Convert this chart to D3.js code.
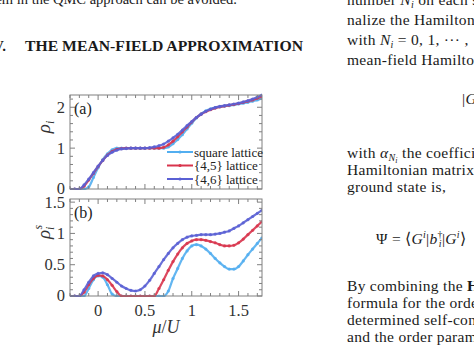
<!DOCTYPE html>
<html><head><meta charset="utf-8">
<script src="https://cdn.jsdelivr.net/npm/d3@7"></script>
<style>body{margin:0;background:#fff}svg{display:block}</style>
</head><body>
<script>
// ---- data ----
const mu = [-0.30,-0.25,-0.20,-0.15,-0.10,-0.05,0.00,0.05,0.10,0.15,0.20,0.25,0.30,0.35,0.40,0.45,0.50,0.55,0.60,0.65,0.70,0.75,0.80,0.85,0.90,0.95,1.00,1.05,1.10,1.15,1.20,1.25,1.30,1.35,1.40,1.45,1.50,1.55,1.60,1.65,1.70,1.75];
const seriesNames = ["square lattice","{4,5} lattice","{4,6} lattice"];
const rhoSquare = [0,0,0,0,0.05,0.28,0.52,0.72,0.86,0.96,1.0,1.0,1.0,1.0,1.0,1.0,1.0,1.0,1.0,1.0,1.0,1.03,1.11,1.21,1.33,1.47,1.61,1.74,1.84,1.91,1.96,1.99,2.01,2.03,2.04,2.06,2.08,2.10,2.12,2.15,2.18,2.22];
const rho45 = [0,0,0,0.07,0.22,0.38,0.55,0.70,0.83,0.92,0.97,0.99,1.0,1.0,1.0,1.0,1.0,1.0,1.0,1.0,1.02,1.08,1.17,1.28,1.40,1.52,1.64,1.75,1.83,1.89,1.94,1.98,2.01,2.03,2.05,2.07,2.09,2.12,2.15,2.18,2.22,2.27];
const rho46 = [0,0,0,0.10,0.24,0.40,0.56,0.70,0.82,0.90,0.95,0.98,0.99,1.0,1.0,1.0,1.0,1.01,1.03,1.06,1.10,1.17,1.25,1.34,1.44,1.55,1.65,1.75,1.83,1.90,1.95,1.99,2.02,2.04,2.06,2.08,2.10,2.13,2.16,2.20,2.25,2.30];
const sSquare = [0,0,0,0,0.12,0.26,0.32,0.30,0.18,0.03,0,0,0,0,0,0,0,0,0,0,0,0.08,0.28,0.44,0.60,0.72,0.80,0.82,0.80,0.75,0.68,0.60,0.53,0.47,0.43,0.43,0.47,0.56,0.66,0.75,0.84,0.93];
const s45 = [0,0,0,0.06,0.18,0.28,0.33,0.32,0.26,0.17,0.07,0,0,0,0,0,0,0,0,0.12,0.26,0.41,0.55,0.67,0.77,0.84,0.88,0.90,0.90,0.89,0.87,0.85,0.82,0.80,0.80,0.81,0.85,0.91,0.98,1.05,1.12,1.19];
const s46 = [0,0,0,0.10,0.22,0.32,0.36,0.37,0.34,0.28,0.22,0.16,0.12,0.09,0.08,0.10,0.16,0.25,0.36,0.47,0.58,0.68,0.77,0.84,0.90,0.94,0.96,0.97,0.98,0.98,0.98,0.99,1.00,1.02,1.04,1.08,1.12,1.17,1.22,1.27,1.32,1.37];
const xTicks = [0,0.5,1,1.5];
const xTickLabels = ["0","0.5","1","1.5"];
const yTicksA = [0,1,2];
const yTickLabelsA = ["0","1","2"];
const yTicksB = [0,0.5,1,1.5];
const yTickLabelsB = ["0","0.5","1","1.5"];

// ---- drawing ----
const W = 474, H = 346;
const colors = ["#52aef0","#d8344c","#5a60d4"];
const serif = "'Liberation Serif','Times New Roman',serif";
const svg = d3.select("body").append("svg").attr("width",W).attr("height",H)
  .style("font-family",serif);
svg.append("rect").attr("width",W).attr("height",H).attr("fill","#fff");

const x = d3.scaleLinear().domain([-0.3,1.75]).range([70,262]);
const ya = d3.scaleLinear().domain([0,2.3]).range([189,95]);
const yb = d3.scaleLinear().domain([0,1.55]).range([296,199]);

function panel(y, seriesList, yTicks, yLabels, minorStep, label, showX){
  const g = svg.append("g");
  const [x0,x1] = x.range(); const [yB,yT] = y.range();
  const clipId = "c"+label.replace(/\W/g,"");
  svg.append("clipPath").attr("id",clipId).append("rect")
    .attr("x",x0).attr("y",yT-3).attr("width",x1-x0).attr("height",yB-yT+4);
  const plot = g.append("g").attr("clip-path",`url(#${clipId})`);
  seriesList.forEach((vals,k)=>{
    const pts = mu.map((m,i)=>[m,vals[i]]);
    plot.append("path").datum(pts)
      .attr("d", d3.line().x(d=>x(d[0])).y(d=>y(d[1])).curve(d3.curveMonotoneX))
      .attr("fill","none").attr("stroke",colors[k]).attr("stroke-width",2.2).attr("stroke-opacity",0.9);
    plot.selectAll(null).data(pts).enter().append("circle")
      .attr("cx",d=>x(d[0])).attr("cy",d=>y(d[1])).attr("r",1.6)
      .attr("fill",colors[k]).attr("fill-opacity",0.8);
  });
  // frame
  g.append("rect").attr("x",x0).attr("y",yT).attr("width",x1-x0).attr("height",yB-yT)
    .attr("fill","none").attr("stroke","#808080").attr("stroke-width",1);
  // ticks (inward, all four sides)
  const xt = d3.range(-0.3,1.7501,0.1).map(v=>Math.round(v*10)/10);
  xt.forEach(v=>{
    const major = xTicks.some(t=>Math.abs(t-v)<1e-6);
    const L = major?5:3;
    g.append("line").attr("x1",x(v)).attr("x2",x(v)).attr("y1",yB).attr("y2",yB-L).attr("stroke","#808080");
    g.append("line").attr("x1",x(v)).attr("x2",x(v)).attr("y1",yT).attr("y2",yT+L).attr("stroke","#808080");
  });
  const ymax = y.domain()[1];
  d3.range(0,ymax+1e-6,minorStep).forEach(v=>{
    const major = yTicks.some(t=>Math.abs(t-v)<1e-6);
    const L = major?5:3;
    g.append("line").attr("x1",x0).attr("x2",x0+L).attr("y1",y(v)).attr("y2",y(v)).attr("stroke","#808080");
    g.append("line").attr("x1",x1).attr("x2",x1-L).attr("y1",y(v)).attr("y2",y(v)).attr("stroke","#808080");
  });
  yTicks.forEach((t,i)=>{
    g.append("text").attr("x",x0-5).attr("y",y(t)).attr("dy","0.33em")
      .attr("text-anchor","end").attr("font-size",16.5).attr("fill","#333").text(yLabels[i]);
  });
  if(showX){
    xTicks.forEach((t,i)=>{
      g.append("text").attr("x",x(t)).attr("y",yB+20).attr("text-anchor","middle")
        .attr("font-size",16.5).attr("fill","#333").text(xTickLabels[i]);
    });
  }
  g.append("text").attr("x",x0+4).attr("y",yT+19).attr("font-size",16).attr("fill","#222").text(label);
}

panel(ya,[rhoSquare,rho45,rho46],yTicksA,yTickLabelsA,0.2,"(a)",false);
panel(yb,[sSquare,s45,s46],yTicksB,yTickLabelsB,0.1,"(b)",true);

// legend
seriesNames.forEach((n,k)=>{
  const yy = 152 + k*13.5;
  svg.append("line").attr("x1",167).attr("x2",193).attr("y1",yy).attr("y2",yy)
    .attr("stroke",colors[k]).attr("stroke-width",2);
  svg.append("circle").attr("cx",180).attr("cy",yy).attr("r",1.6).attr("fill",colors[k]);
  svg.append("text").attr("x",194).attr("y",yy+4.5).attr("font-size",13).attr("fill","#222").text(n);
});

// axis labels
const yl1 = svg.append("text").attr("transform","translate(50,127) rotate(-90)")
  .attr("text-anchor","middle").attr("font-size",19).attr("fill","#333");
yl1.append("tspan").attr("font-style","italic").text("ρ");
yl1.append("tspan").attr("font-style","italic").attr("font-size",12).attr("dy",4).text("i");
const yl2 = svg.append("text").attr("transform","translate(50,232) rotate(-90)")
  .attr("text-anchor","middle").attr("font-size",19).attr("fill","#333");
yl2.append("tspan").attr("font-style","italic").text("ρ");
yl2.append("tspan").attr("font-style","italic").attr("font-size",12).attr("dy",4).text("i");
yl2.append("tspan").attr("font-style","italic").attr("font-size",12).attr("dx",-3).attr("dy",-12).text("s");
const xl = svg.append("text").attr("x",166).attr("y",333).attr("text-anchor","middle")
  .attr("font-size",18).attr("fill","#333");
xl.append("tspan").attr("font-style","italic").text("μ");
xl.append("tspan").text("/");
xl.append("tspan").attr("font-style","italic").text("U");

// surrounding paper text
function para(xp, yp, segs, size){
  const t = svg.append("text").attr("x",xp).attr("y",yp).attr("font-size",size||15.5)
    .attr("letter-spacing",0.3).attr("fill","#1a1a1a");
  segs.forEach(s=>{
    if(typeof s==="string"){ t.append("tspan").text(s); return; }
    const sp = t.append("tspan").text(s.t);
    if(s.i) sp.attr("font-style","italic");
    if(s.b) sp.attr("font-weight","bold");
    if(s.fs) sp.attr("font-size",s.fs);
    if(s.dy!==undefined) sp.attr("dy",s.dy);
    if(s.dx!==undefined) sp.attr("dx",s.dx);
  });
  return t;
}
para(237,4,["blem in the QMC approach can be avoided."],14.5).attr("letter-spacing",0).attr("text-anchor","end");
para(-7,51,[{t:"V.",b:true}],15);
para(25,51,[{t:"THE MEAN-FIELD APPROXIMATION",b:true}],15).attr("letter-spacing",0).attr("textLength",278).attr("lengthAdjust","spacingAndGlyphs");

const cx = 347;
para(cx,5,["number ",{t:"N",i:true},{t:"i",i:true,fs:10,dy:3},{t:" on each site",dy:-3}]);
para(cx,25,["nalize the Hamiltonian"]);
para(cx,45,["with ",{t:"N",i:true},{t:"i",i:true,fs:10,dy:3},{t:" = 0, 1, ··· ,",dy:-3}]);
para(cx,65,["mean-field Hamiltonian"]);
para(462,104,["|",{t:"G",i:true}]);
para(cx,158,["with ",{t:"α",i:true},{t:"N",i:true,fs:10,dy:3},{t:"i",i:true,fs:8,dy:2},{t:" the coefficients",dy:-5}]);
para(cx,175,["Hamiltonian matrix"]);
para(cx,192,["ground state is,"]);
para(376,244,["Ψ = ⟨",{t:"G",i:true},{t:"i",i:true,fs:10,dy:-6},{t:"|",dy:6},{t:"b",i:true},{t:"†",fs:10,dy:-6},{t:"i",i:true,fs:10,dx:-4,dy:9},{t:"|",dy:-3},{t:"G",i:true},{t:"i",i:true,fs:10,dy:-6},{t:"⟩",dy:6}]);
para(cx,291,["By combining the ",{t:"H",b:true}]);
para(cx,308,["formula for the order"]);
para(cx,325,["determined self-consistently"]);
para(cx,342,["and the order parameter"]);
</script>
</body></html>
